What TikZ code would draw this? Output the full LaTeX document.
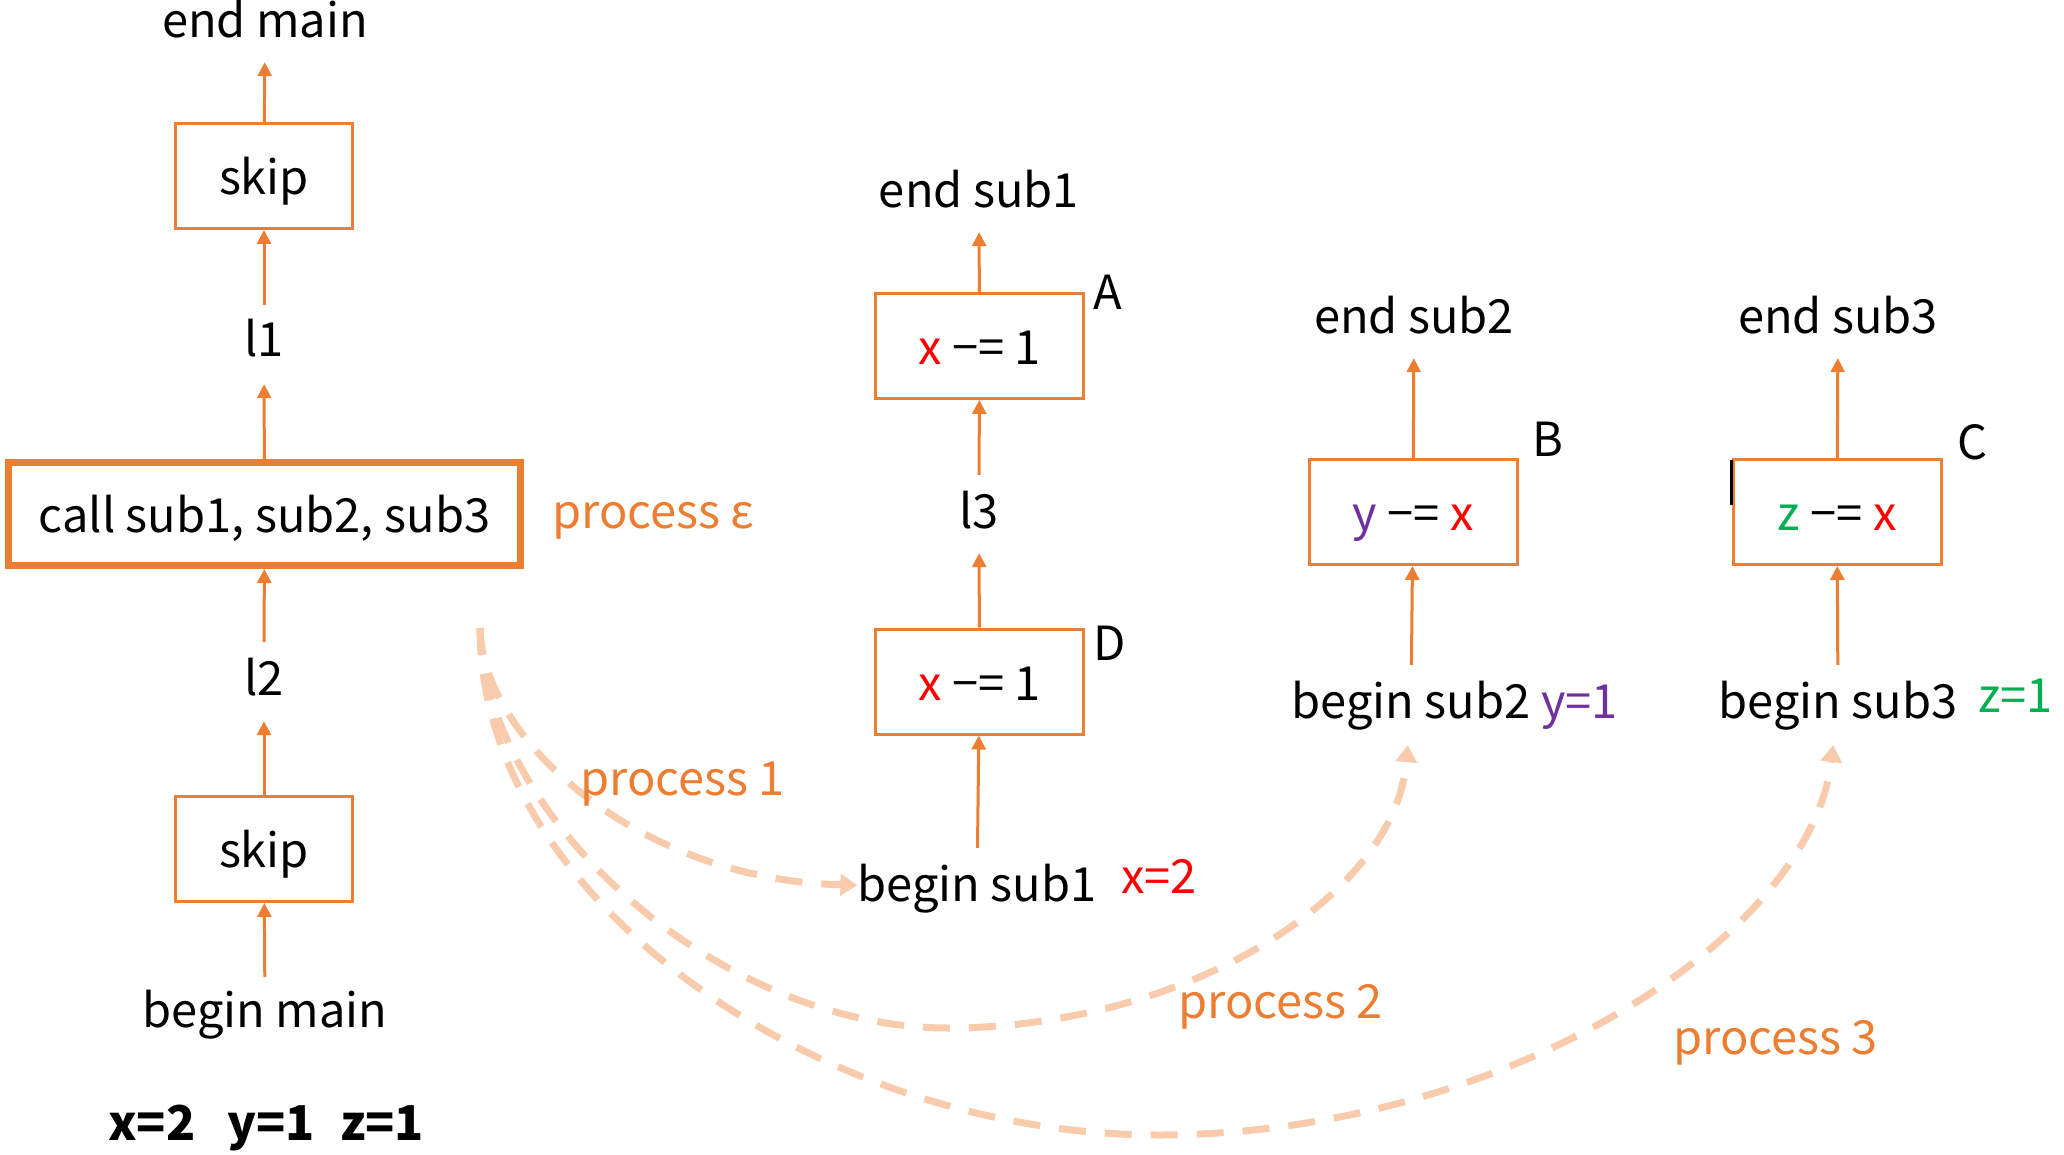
\documentclass[tikz,border=0pt]{standalone}
\usepackage{fontspec}
\setmainfont{Noto Sans CJK JP}
\usetikzlibrary{arrows.meta}
\definecolor{accent}{HTML}{ED7D31}
\definecolor{peach}{HTML}{F8CBAD}
\definecolor{xred}{HTML}{FF0000}
\definecolor{ypurple}{HTML}{7030A0}
\definecolor{zgreen}{HTML}{00B050}

\begin{document}
\begin{tikzpicture}[x=1pt,y=-1pt,
  every node/.style={font=\fontsize{47}{56}\selectfont},
  lbl/.style={inner sep=0pt, text height=37pt, text depth=11pt, anchor=base},
  stmt/.style={draw=accent, line width=3pt, inner sep=0pt,
    text height=40pt, text depth=3pt, minimum width=208pt, minimum height=105pt},
  arr/.style={accent, line width=3pt, -{Triangle[width=14pt,length=14pt]}},
  flow/.style={peach, line width=7pt, dash pattern=on 27pt off 19pt,
    -{Triangle[width=21pt,length=17pt]}},
  note/.style={inner sep=0pt, anchor=base west, text=accent},
]
\useasboundingbox (0,0) rectangle (2064,1155);

% main routine
\node[lbl] (endmain) at (265,38) {end main};
\node[stmt, minimum width=177pt] (skipT) at (264,176) {skip};
\node[lbl] (l1) at (264,357) {l1};
\node[draw=accent, line width=7pt, inner sep=0pt, text height=40pt, text depth=3pt,
      minimum width=512pt, minimum height=103pt] (call) at (264.5,514) {call sub1, sub2, sub3};
\node[lbl] (l2) at (264,695) {l2};
\node[stmt, minimum width=177pt] (skipB) at (264,849) {skip};
\node[lbl] (beginmain) at (265,1027) {begin main};
\node[note] (peps) at (552,528) {process ε};

\draw[arr, shorten >=13pt] (skipT) -- (endmain);
\draw[arr, shorten <=15pt] (l1) -- (skipT);
\draw[arr, shorten >=16pt] (call) -- (l1);
\draw[arr, shorten <=16pt] (l2) -- (call);
\draw[arr, shorten >=15pt] (skipB) -- (l2);
\draw[arr, shorten <=13pt] (beginmain) -- (skipB);

% initial values
\node[lbl, anchor=base west, font=\fontsize{48}{56}\selectfont\bfseries] (vx) at (108,1140) {x=2};
\node[lbl, anchor=base west, font=\fontsize{48}{56}\selectfont\bfseries] (vy) at (227,1140) {y=1};
\node[lbl, anchor=base west, font=\fontsize{48}{56}\selectfont\bfseries] (vz) at (340,1140) {z=1};

% sub1
\node[lbl] (endsub1) at (979,208) {end sub1};
\node[stmt] (A) at (979.5,346) {\textcolor{xred}{x} −= 1};
\node[lbl] (tagA) at (1108,310) {A};
\node[lbl] (l3) at (979,528) {l3};
\node[stmt] (D) at (979.5,681.5) {\textcolor{xred}{x} −= 1};
\node[lbl] (tagD) at (1110,660) {D};
\node[lbl] (bs1) at (977,901) {begin sub1};
\node[lbl, anchor=base west, text=xred] (x2) at (1121,893) {x=2};

\draw[arr, shorten >=13pt] (A) -- (endsub1);
\draw[arr, shorten <=16pt] (l3) -- (A);
\draw[arr, shorten >=14pt] (D) -- (l3);
\draw[arr, shorten <=16pt] (bs1) -- (D);

% sub2
\node[lbl] (endsub2) at (1414,334) {end sub2};
\node[stmt] (B) at (1413,512) {\textcolor{ypurple}{y} −= \textcolor{xred}{x}};
\node[lbl] (tagB) at (1548,456) {B};
\node[lbl] (bs2) at (1411,718) {begin sub2};
\node[lbl, anchor=base west, text=ypurple] (y1) at (1541,718) {y=1};

\draw[arr, shorten >=13pt] (B) -- (endsub2);
\draw[arr, shorten <=16pt] (bs2) -- (B);

% sub3
\node[lbl] (endsub3) at (1838,334) {end sub3};
\node[stmt] (C) at (1837,512) {\textcolor{zgreen}{z} −= \textcolor{xred}{x}};
\node[lbl] (tagC) at (1972,459) {C};
\node[lbl] (bs3) at (1838,718) {begin sub3};
\node[lbl, anchor=base west, text=zgreen] (z1) at (1978,712) {z=1};
\draw[line width=3pt] (1731,460) -- (1731,505);

\draw[arr, shorten >=13pt] (C) -- (endsub3);
\draw[arr, shorten <=16pt] (bs3) -- (C);

% process flows forked from the call
\coordinate (fork) at (480,628);
\draw[flow] (fork) .. controls (482,740) and (640,880) .. (bs1);
\draw[flow, shorten >=16pt] (fork) .. controls (485,820) and (720,1028) .. (948,1028)
   .. controls (1180,1028) and (1395,900) .. (bs2);
\draw[flow, shorten >=16pt] (fork) .. controls (480,900) and (820,1135) .. (1158,1135)
   .. controls (1500,1135) and (1810,940) .. (bs3);

\node[note] (p1) at (580,795) {process 1};
\node[note] (p2) at (1178,1018) {process 2};
\node[note] (p3) at (1673,1054) {process 3};
\end{tikzpicture}
\end{document}
